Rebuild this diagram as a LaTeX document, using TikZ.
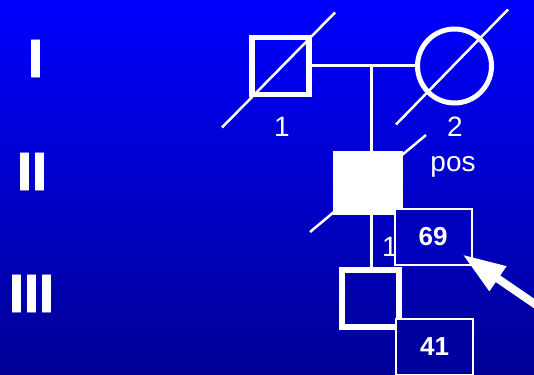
\documentclass[tikz,border=0pt]{standalone}
\usepackage{fontspec}
\setmainfont{Liberation Sans}
\newfontfamily\genfont[FakeBold=1.5]{Liberation Sans Bold}
\usetikzlibrary{positioning,arrows.meta,calc}
\definecolor{bgtop}{RGB}{0,0,255}
\definecolor{bgbot}{RGB}{0,0,150}
\definecolor{boxmid}{RGB}{0,0,189}
\definecolor{boxlow}{RGB}{0,0,158}
\tikzset{
  gen/.style={text=white, font=\fontsize{54}{54}\genfont, inner sep=0pt},
  male/.style={draw=white, line width=5.5pt, minimum size=57pt, inner sep=0pt},
  female/.style={circle, draw=white, line width=5pt, minimum size=74pt, inner sep=0pt},
  aff/.style={fill=white, minimum width=70pt, minimum height=64pt, inner sep=0pt},
  lbl/.style={text=white, font=\fontsize{28}{28}\selectfont, inner sep=0pt},
  age/.style={draw=white, line width=2pt, text=white, font=\fontsize{26}{26}\selectfont\bfseries, minimum width=77pt, minimum height=56pt, inner sep=0pt},
  dl/.style={white, line width=2.5pt},
  ln/.style={white, line width=3pt},
  pt/.style={white, line width=8pt, -{Triangle[length=43pt,width=28pt]}},
}
\begin{document}
\begin{tikzpicture}[x=1pt, y=-1pt]
\shade[top color=bgtop, bottom color=bgbot] (0,0) rectangle (534,374);
\useasboundingbox (0,0) rectangle (534,374);
\clip (0,0) rectangle (534,374);

% generations
\node[gen] (g1) at (35.5,58.5) {I};
\node[gen] (g2) at (32,171.5) {II};
\node[gen] (g3) at (31.5,293.5) {III};

% parents
\node[male] (fa) at (280.5,66) {};
\node[female] (mo) at (454.5,66) {};
\draw[dl] ($(fa.center)+(-58.5,61.5)$) -- ++(113,-115);
\draw[dl] ($(mo.center)+(-58.5,58.5)$) -- ++(112,-115);
\node[lbl] (n1) at (282,127) {1};
\node[lbl] (n2) at (455,127) {2};
\node[lbl] (pos) at (453,167) {pos};
\draw[ln] (fa.east) -- (mo.west);
\coordinate (mid) at (371,66);

% index case
\node[aff] (ii) at (368,183) {};
\draw[dl] ($(ii.center)+(-58,49)$) -- ++(116,-97);
\draw[ln] (mid) -- (mid |- ii.north);
\node[lbl] (n3) at (390,247) {1};
\node[age, fill=boxmid] (b69) at (433,236.5) {69};

% child
\node[male] (ch) at (370.5,298.5) {};
\draw[ln] (ii.south -| mid) -- (mid |- ch.north);
\node[age, fill=boxlow] (b41) at (434.5,346.5) {41};

\coordinate (tail) at (548,313);
\draw[pt] (tail) -- ($(b69.south east)+(-10,-11)$);
\end{tikzpicture}
\end{document}
